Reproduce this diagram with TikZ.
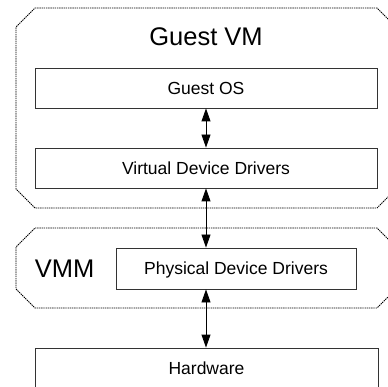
\documentclass[tikz,border=0pt]{standalone}
\usepackage{fontspec}
\setmainfont{Liberation Sans}
\usetikzlibrary{arrows.meta}
\begin{document}
\begin{tikzpicture}[x=1pt,y=-1pt,
  layer/.style={draw=black, line width=0.9pt, dash pattern=on 1.4pt off 0.8pt},
  box/.style={draw=black!80, line width=0.9pt, rectangle, inner sep=0pt,
    minimum height=40pt, font=\fontsize{17.5}{20}\selectfont,
    text height=12.5pt, text depth=0pt},
  title/.style={font=\fontsize{25.5}{30}\selectfont, inner sep=0pt, anchor=base},
  link/.style={{Triangle[length=13pt,width=9pt]}-{Triangle[length=13pt,width=9pt]}, line width=0.9pt}]
\useasboundingbox (0,0) rectangle (388,387);
\clip (0,0) rectangle (388,387);
% containers
\draw[layer] (35,8) -- (377,8) -- (396,27) -- (396,189) -- (377,208) -- (35,208) -- (16,189) -- (16,27) -- cycle;
\draw[layer] (35,228) -- (377,228) -- (396,247) -- (396,289) -- (377,308) -- (35,308) -- (16,289) -- (16,247) -- cycle;
% titles
\node[title] (gvm) at (206,46) {Guest VM};
\node[title] (vmm) at (64.5,277) {VMM};
% boxes
\node[box, minimum width=342pt] (gos) at (206,88) {Guest OS};
\node[box, minimum width=342pt] (vdd) at (206,168) {Virtual Device Drivers};
\node[box, minimum width=240pt, minimum height=41pt] (pdd) at (236,268.5) {Physical Device Drivers};
\node[box, minimum width=343pt] (hw) at (206.5,368) {Hardware};
% connectors
\draw[link] (gos.south) -- (vdd.north);
\draw[link] (vdd.south) -- (vdd.south |- pdd.north);
\draw[link] (vdd.south |- pdd.south) -- (vdd.south |- hw.north);
\end{tikzpicture}
\end{document}
